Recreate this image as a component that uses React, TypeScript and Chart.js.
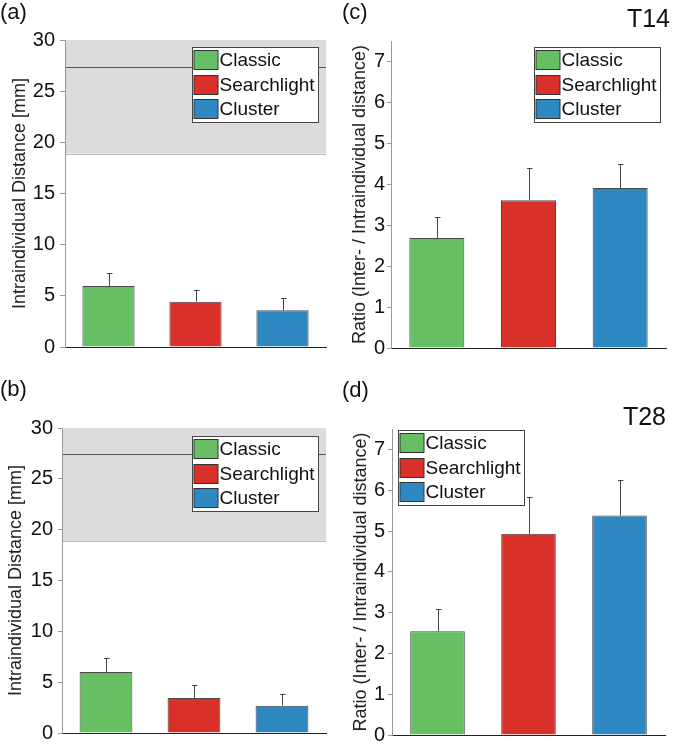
import React, { useEffect, useRef } from 'react';
import { Chart, registerables } from 'chart.js';

Chart.register(...registerables);
Chart.defaults.font.family = '"Liberation Sans", Arial, Helvetica, sans-serif';

// ---------- data ----------
const categories = ['Classic', 'Searchlight', 'Cluster'];
const barColors = ['#66bf63', '#d9302a', '#2e88c1'];

// (a) T14 intraindividual distance [mm]
const distT14Means = [5.96, 4.43, 3.59];
const distT14ErrTops = [7.27, 5.55, 4.77];
// (b) T28 intraindividual distance [mm]
const distT28Means = [6.0, 3.45, 2.69];
const distT28ErrTops = [7.4, 4.7, 3.85];
// (c) T14 ratio
const ratioT14Means = [2.69, 3.61, 3.91];
const ratioT14ErrTops = [3.19, 4.4, 4.5];
// (d) T28 ratio
const ratioT28Means = [2.54, 4.93, 5.38];
const ratioT28ErrTops = [3.1, 5.83, 6.25];

// interindividual distance band (grey) and its mean line
const interBandRange = [18.9, 30];
const interMeanLine = [27.4];

// tick values
const distTickValues = [0, 5, 10, 15, 20, 25, 30];
const ratioTickValues = [0, 1, 2, 3, 4, 5, 6, 7];

const distAxis = { max: 30, ticks: distTickValues, title: 'Intraindividual Distance [mm]' };
const ratioAxis = { max: 7.5, ticks: ratioTickValues, title: 'Ratio (Inter- / Intraindividual distance)' };

const FONT = '"Liberation Sans", Arial, Helvetica, sans-serif';

type Spec = {
  left: number; top: number; width: number; height: number;
  means: number[]; errTops: number[];
  axis: { max: number; ticks: number[]; title: string };
  band: boolean;
  axisW: number; padTop: number; padRight: number; padBottom: number;
  titlePad: number; tickLen: number; tickPad: number;
  legendFrom: 'left' | 'right'; legendDX: number; legendDY: number;
};

function Panel({ spec }: { spec: Spec }) {
  const ref = useRef<HTMLCanvasElement | null>(null);
  useEffect(() => {
    const canvas = ref.current;
    if (!canvas) return;
    const s = spec;

    const bandPlugin = {
      id: 'interBand',
      beforeDraw(chart: any) {
        if (!s.band) return;
        const { ctx, chartArea: a } = chart;
        const y = chart.scales.y;
        const yTop = y.getPixelForValue(interBandRange[1]);
        const yBot = y.getPixelForValue(interBandRange[0]);
        ctx.save();
        ctx.fillStyle = '#dcdcdc';
        ctx.fillRect(a.left, yTop, a.right - a.left, yBot - yTop);
        ctx.strokeStyle = '#b8b8b8';
        ctx.lineWidth = 1;
        ctx.beginPath();
        ctx.moveTo(a.left, Math.round(yBot) + 0.5);
        ctx.lineTo(a.right, Math.round(yBot) + 0.5);
        ctx.stroke();
        const yl = Math.round(y.getPixelForValue(interMeanLine[0])) + 0.5;
        ctx.strokeStyle = '#555';
        ctx.beginPath();
        ctx.moveTo(a.left, yl);
        ctx.lineTo(a.right, yl);
        ctx.stroke();
        ctx.restore();
      },
    };

    const errPlugin = {
      id: 'errBars',
      afterDatasetsDraw(chart: any) {
        const { ctx } = chart;
        const y = chart.scales.y;
        const meta = chart.getDatasetMeta(0);
        ctx.save();
        ctx.strokeStyle = '#444';
        ctx.lineWidth = 1;
        meta.data.forEach((bar: any, i: number) => {
          const x = Math.round(bar.x) + 0.5;
          const yt = Math.round(y.getPixelForValue(s.errTops[i])) + 0.5;
          ctx.beginPath();
          ctx.moveTo(x, bar.y);
          ctx.lineTo(x, yt);
          ctx.moveTo(x - 2.5, yt);
          ctx.lineTo(x + 3, yt);
          ctx.stroke();
        });
        ctx.restore();
      },
    };

    const legendPlugin = {
      id: 'boxLegend',
      afterDraw(chart: any) {
        const { ctx, chartArea: a } = chart;
        const w = 126, h = 75;
        const bx = Math.round(s.legendFrom === 'right' ? a.right - s.legendDX : a.left + s.legendDX) + 0.5;
        const by = Math.round(a.top + s.legendDY) + 0.5;
        ctx.save();
        ctx.fillStyle = '#fff';
        ctx.fillRect(bx, by, w, h);
        ctx.strokeStyle = '#444';
        ctx.lineWidth = 1;
        ctx.strokeRect(bx, by, w, h);
        ctx.font = `19px ${FONT}`;
        ctx.textBaseline = 'middle';
        ctx.textAlign = 'left';
        categories.forEach((label, i) => {
          const sy = Math.round(by + 2.5 + i * 24.5);
          ctx.fillStyle = barColors[i];
          ctx.fillRect(bx + 1.5, sy, 24, 19);
          ctx.strokeStyle = '#333';
          ctx.strokeRect(bx + 1.5, sy + 0.5, 24, 19);
          ctx.fillStyle = '#111';
          ctx.fillText(label, bx + 27, sy + 10.5);
        });
        ctx.restore();
      },
    };

    const chart = new Chart(canvas, {
      type: 'bar',
      data: {
        labels: categories,
        datasets: [
          {
            data: s.means,
            backgroundColor: barColors,
            borderColor: 'rgba(40,40,40,0.85)',
            borderWidth: 1,
            barPercentage: 0.6,
            categoryPercentage: 1,
          },
        ],
      },
      options: {
        responsive: false,
        animation: false,
        events: [],
        layout: { padding: { top: s.padTop, right: s.padRight, bottom: s.padBottom, left: 0 } },
        plugins: { legend: { display: false }, tooltip: { enabled: false } },
        scales: {
          x: {
            type: 'category',
            offset: true,
            grid: { display: false },
            ticks: { display: false },
            border: { display: true, color: '#222', width: 1 },
            afterFit: (sc: any) => { sc.height = 0; },
          },
          y: {
            min: 0,
            max: s.axis.max,
            ticks: { padding: s.tickPad, color: '#111', font: { size: 20 } },
            grid: { drawOnChartArea: false, drawTicks: true, tickLength: s.tickLen, color: '#999' },
            border: { display: true, color: '#999', width: 1 },
            title: {
              display: true,
              text: s.axis.title,
              color: '#222',
              font: { size: 18 },
              padding: { top: s.titlePad, bottom: 0 },
            },
            afterBuildTicks: (sc: any) => {
              sc.ticks = s.axis.ticks.map((v) => ({ value: v }));
            },
            afterFit: (sc: any) => { sc.width = s.axisW; },
          },
        },
      },
      plugins: [bandPlugin, errPlugin, legendPlugin],
    } as any);
    return () => chart.destroy();
  }, [spec]);

  return (
    <canvas
      ref={ref}
      width={spec.width}
      height={spec.height}
      style={{ position: 'absolute', left: spec.left, top: spec.top, width: spec.width, height: spec.height, display: 'block' }}
    />
  );
}

const specs: Spec[] = [
  {
    left: 0, top: 0, width: 336, height: 370,
    means: distT14Means, errTops: distT14ErrTops, axis: distAxis, band: true,
    axisW: 65, padTop: 40, padRight: 10, padBottom: 23, titlePad: 9, tickLen: 5, tickPad: 5,
    legendFrom: 'right', legendDX: 134, legendDY: 7,
  },
  {
    left: 0, top: 370, width: 336, height: 380,
    means: distT28Means, errTops: distT28ErrTops, axis: distAxis, band: true,
    axisW: 62, padTop: 58, padRight: 10, padBottom: 13, titlePad: 5, tickLen: 4, tickPad: 5,
    legendFrom: 'right', legendDX: 134, legendDY: 8,
  },
  {
    left: 336, top: 0, width: 337, height: 370,
    means: ratioT14Means, errTops: ratioT14ErrTops, axis: ratioAxis, band: false,
    axisW: 55, padTop: 41, padRight: 7, padBottom: 22, titlePad: 13, tickLen: 4, tickPad: 2,
    legendFrom: 'right', legendDX: 132, legendDY: 6,
  },
  {
    left: 336, top: 370, width: 337, height: 380,
    means: ratioT28Means, errTops: ratioT28ErrTops, axis: ratioAxis, band: false,
    axisW: 56, padTop: 59, padRight: 8, padBottom: 13, titlePad: 14, tickLen: 4, tickPad: 3,
    legendFrom: 'left', legendDX: 6, legendDY: 1,
  },
];

const labelStyle = (left: number, top: number, size: number): React.CSSProperties => ({
  position: 'absolute', left, top, fontSize: size, lineHeight: `${size}px`,
  fontFamily: FONT, color: '#111', whiteSpace: 'nowrap',
});

export default function App() {
  return (
    <div style={{ position: 'absolute', left: 0, top: 0, width: 673, height: 750, background: '#fff', overflow: 'hidden' }}>
      {specs.map((s, i) => <Panel key={i} spec={s} />)}
      <div style={labelStyle(0, 1, 22)}>(a)</div>
      <div style={labelStyle(0, 378, 22)}>(b)</div>
      <div style={labelStyle(342, 1, 22)}>(c)</div>
      <div style={labelStyle(342, 379, 22)}>(d)</div>
      <div style={{ ...labelStyle(0, 6, 25), left: 'auto', right: 3 }}>T14</div>
      <div style={{ ...labelStyle(0, 404, 25), left: 'auto', right: 7 }}>T28</div>
    </div>
  );
}
